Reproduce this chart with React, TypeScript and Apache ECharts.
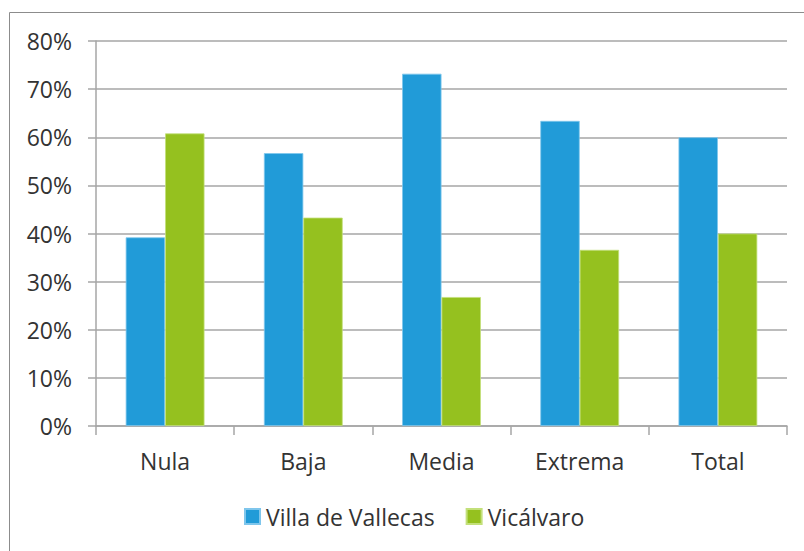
import React, { useEffect, useRef } from "react";
import * as echarts from "echarts";

const categories = ["Nula", "Baja", "Media", "Extrema", "Total"];
const seriesNames = ["Villa de Vallecas", "Vicálvaro"];
const vallecas = [39.2, 56.7, 73.2, 63.4, 60.0];
const vicalvaro = [60.8, 43.3, 26.8, 36.6, 40.0];
const colors = ["#219BD8", "#95C11F"];

const FONT = "'Open Sans', sans-serif";
const TEXT = "#333333";
const FS = 23;

export default function App() {
  const ref = useRef<HTMLDivElement>(null);
  useEffect(() => {
    if (!ref.current) return;
    const chart = echarts.init(ref.current, undefined, { renderer: "svg" });
    chart.setOption({
      animation: false,
      backgroundColor: "#ffffff",
      textStyle: { fontFamily: FONT },
      graphic: [
        {
          type: "rect",
          shape: { x: 9.5, y: 12.5, width: 900, height: 900 },
          style: { fill: "none", stroke: "#8c8c8c", lineWidth: 1 },
          silent: true,
        },
      ],
      grid: { left: 96, right: 17, top: 41, bottom: 125, containLabel: false },
      legend: {
        left: 239,
        top: 500,
        itemWidth: 15,
        itemHeight: 15,
        itemGap: 31,
        icon: "rect",
        textStyle: { fontFamily: FONT, fontSize: FS, color: TEXT, padding: [0, 0, 0, 1] },
        data: seriesNames,
      },
      xAxis: {
        type: "category",
        data: categories,
        axisLine: { lineStyle: { color: "#a6a6a6", width: 1.5 } },
        axisTick: { show: true, length: 9, interval: 0, lineStyle: { color: "#a6a6a6", width: 1.5 } },
        axisLabel: { fontFamily: FONT, fontSize: FS, color: TEXT, margin: 23, interval: 0 },
      },
      yAxis: {
        type: "value",
        min: 0,
        max: 80,
        interval: 10,
        axisLine: { show: true, lineStyle: { color: "#a6a6a6", width: 1.5 } },
        axisTick: { show: true, length: 8, lineStyle: { color: "#a6a6a6", width: 1.5 } },
        splitLine: { show: true, lineStyle: { color: "#a6a6a6", width: 1.5 } },
        axisLabel: {
          fontFamily: FONT,
          fontSize: FS,
          color: TEXT,
          margin: 24,
          formatter: (v: number) => `${v}%`,
        },
      },
      series: [
        {
          name: seriesNames[0],
          type: "bar",
          data: vallecas,
          barGap: "0%",
          barCategoryGap: "43%",
          itemStyle: { color: colors[0], borderColor: "#7fc6ec", borderWidth: 0.8 },
        },
        {
          name: seriesNames[1],
          type: "bar",
          data: vicalvaro,
          barGap: "0%",
          barCategoryGap: "43%",
          itemStyle: { color: colors[1], borderColor: "#c3e07a", borderWidth: 0.8 },
        },
      ],
    });
    return () => chart.dispose();
  }, []);
  return (
    <div
      ref={ref}
      style={{ position: "fixed", left: 0, top: 0, width: 804, height: 551 }}
    />
  );
}
